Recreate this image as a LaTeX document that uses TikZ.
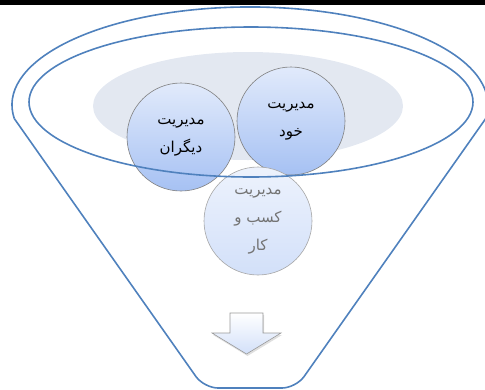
\documentclass[tikz,border=0pt]{standalone}
\usepackage{fontspec}
\newfontfamily\arabicfont[Script=Arabic]{DejaVu Sans}
\TeXXeTstate=1
\usetikzlibrary{shadows}
\definecolor{funnelblue}{RGB}{79,129,189}
\definecolor{haze}{RGB}{227,232,241}
\definecolor{balltop}{RGB}{225,234,251}
\definecolor{ballbot}{RGB}{166,193,243}
\definecolor{rim}{RGB}{128,128,128}

\begin{document}
\begin{tikzpicture}[
        x=1pt, y=-1pt,
        funnel/.style={draw=funnelblue, line width=1.6pt},
        ball/.style={circle, draw=rim, line width=0.6pt, minimum size=108pt, inner sep=0pt, top color=balltop, bottom color=ballbot, align=center, font=\arabicfont\fontsize{15}{28}\selectfont},
        faded/.style={ball, top color=balltop!60!white, bottom color=ballbot!50!white, draw=rim!70, text=black!55},
        downarrow/.style={draw=rim!80, line width=0.6pt, top color=white, bottom color=balltop!75!ballbot, drop shadow={opacity=0.25, shadow xshift=1pt, shadow yshift=-2pt}}
    ]
\useasboundingbox (0,0) rectangle (485,389);
% top rule
\fill[black] (0,0) rectangle (485,4.5);
% back disc
\fill[haze] (248,106) ellipse[x radius=155, y radius=54];

% Circles
\node[ball] (self) at (291,121) {\beginR مدیریت\endR\\\beginR خود\endR};
\node[ball] (others) at (181,137) {\beginR مدیریت\endR\\\beginR دیگران\endR};
\node[faded] (business) at (258,221) {\beginR مدیریت\endR\\\beginR کسب و\endR\\\beginR کار\endR};

% Arrow
\path[downarrow] (230,313) -- (263,313) -- (263,333) -- (281,333) -- (246.5,354) -- (212,333) -- (230,333) -- cycle;

% Funnel
\draw[funnel] (14.3,118.6) arc[start angle=172, end angle=368, x radius=238, y radius=98];
\draw[funnel, rounded corners=14pt] (14.3,118.6) -- (204,388) -- (296,388) -- (485.7,118.6);
\draw[funnel] (251,102) ellipse[x radius=222, y radius=75];
\end{tikzpicture}
\end{document}
